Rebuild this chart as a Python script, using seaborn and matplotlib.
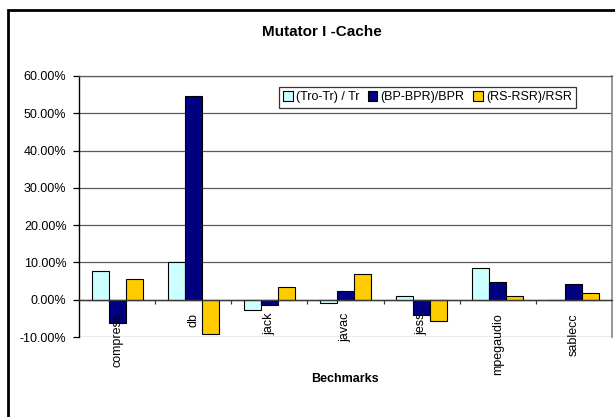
import matplotlib
matplotlib.use("Agg")
import matplotlib.pyplot as plt
from matplotlib.patches import Rectangle
import seaborn as sns
import pandas as pd

# Benchmarks and relative differences (percent)
benchmarks = ["compress", "db", "jack", "javac", "jess", "mpegaudio", "sablecc"]
series_names = ["(Tro-Tr) / Tr", "(BP-BPR)/BPR", "(RS-RSR)/RSR"]
tro_tr = [7.8, 10.0, -2.7, -0.8, 1.1, 8.4, -0.2]
bp_bpr = [-6.3, 54.6, -1.3, 2.4, -4.0, 4.7, 4.2]
rs_rsr = [5.6, -9.2, 3.3, 6.9, -5.8, 1.1, 1.7]
yticks = [-10, 0, 10, 20, 30, 40, 50, 60]
colors = ["#CCFFFF", "#000080", "#FFCC00"]

rows = []
for name, vals in zip(series_names, [tro_tr, bp_bpr, rs_rsr]):
    for b, v in zip(benchmarks, vals):
        rows.append({"Benchmark": b, "Series": name, "Value": v})
df = pd.DataFrame(rows)

sns.set_theme(style="white")
plt.rcParams["font.family"] = ["Liberation Sans", "DejaVu Sans"]
plt.rcParams["text.color"] = "black"

fig = plt.figure(figsize=(6.15, 4.17), dpi=100)
ax = fig.add_axes([79 / 615, 1 - 337 / 417, (612 - 79) / 615, (337 - 76) / 417])

sns.barplot(data=df, x="Benchmark", y="Value", hue="Series", order=benchmarks,
            hue_order=series_names, palette=colors, saturation=1, width=0.67,
            edgecolor="black", linewidth=0.8, errorbar=None, ax=ax, zorder=3)

ax.set_xlim(-0.5, len(benchmarks) - 0.5)
ax.set_ylim(yticks[0], yticks[-1])
ax.set_yticks(yticks)
ax.set_yticklabels([f"{v:.2f}%" for v in yticks], fontsize=9, color="black")
ax.yaxis.grid(True, color="#5a5a5a", linewidth=0.9, zorder=0)
ax.set_axisbelow(True)
# category labels sit on top of the bars
ax.xaxis.set_zorder(4)

# x axis drawn through zero, with tick marks between groups
ax.spines["bottom"].set_position(("data", 0))
ax.spines["bottom"].set_color("#3a3a3a")
ax.spines["bottom"].set_linewidth(1.0)
ax.spines["bottom"].set_zorder(4)
ax.spines["left"].set_color("black")
ax.spines["left"].set_linewidth(1.0)
ax.spines["right"].set_color("#8a8a8a")
ax.spines["top"].set_color("#5a5a5a")
ax.spines["top"].set_linewidth(0.9)

ax.set_xticks(range(len(benchmarks)))
ax.set_xticklabels(benchmarks, rotation=90, fontsize=9, color="black")
ax.set_xticks([i + 0.5 for i in range(len(benchmarks) - 1)], minor=True)
ax.tick_params(axis="x", which="major", length=0, pad=9.5)
ax.tick_params(axis="x", which="minor", direction="out", length=3,
               width=0.9, color="#3a3a3a", bottom=True)
ax.tick_params(axis="y", direction="out", length=4, width=0.9,
               color="black", left=True, pad=5)
ax.set_xlabel("")
ax.set_ylabel("")

handles, labels = ax.get_legend_handles_labels()
ax.get_legend().remove()
leg = ax.legend(handles, labels, ncol=3, loc="upper right",
                bbox_to_anchor=(0.9325, 0.958), frameon=True, fancybox=False,
                edgecolor="black", fontsize=9, handlelength=0.75,
                handleheight=0.75, handletextpad=0.25, columnspacing=0.7,
                borderpad=0.35, borderaxespad=0)
leg.get_frame().set_linewidth(0.9)
leg.set_zorder(5)

fig.text(322 / 615, 1 - 32 / 417, "Mutator I -Cache", ha="center",
         va="center", fontsize=11, fontweight="bold", color="black")
fig.text(345 / 615, 1 - 379 / 417, "Bechmarks", ha="center", va="center",
         fontsize=9, fontweight="bold", color="black")

# chart frame
fig.patches.append(Rectangle((8 / 615, -0.2), 1.2, 1.2 - 10 / 417,
                             transform=fig.transFigure, fill=False,
                             edgecolor="black", linewidth=2))

fig.savefig("out.png", dpi=100)
